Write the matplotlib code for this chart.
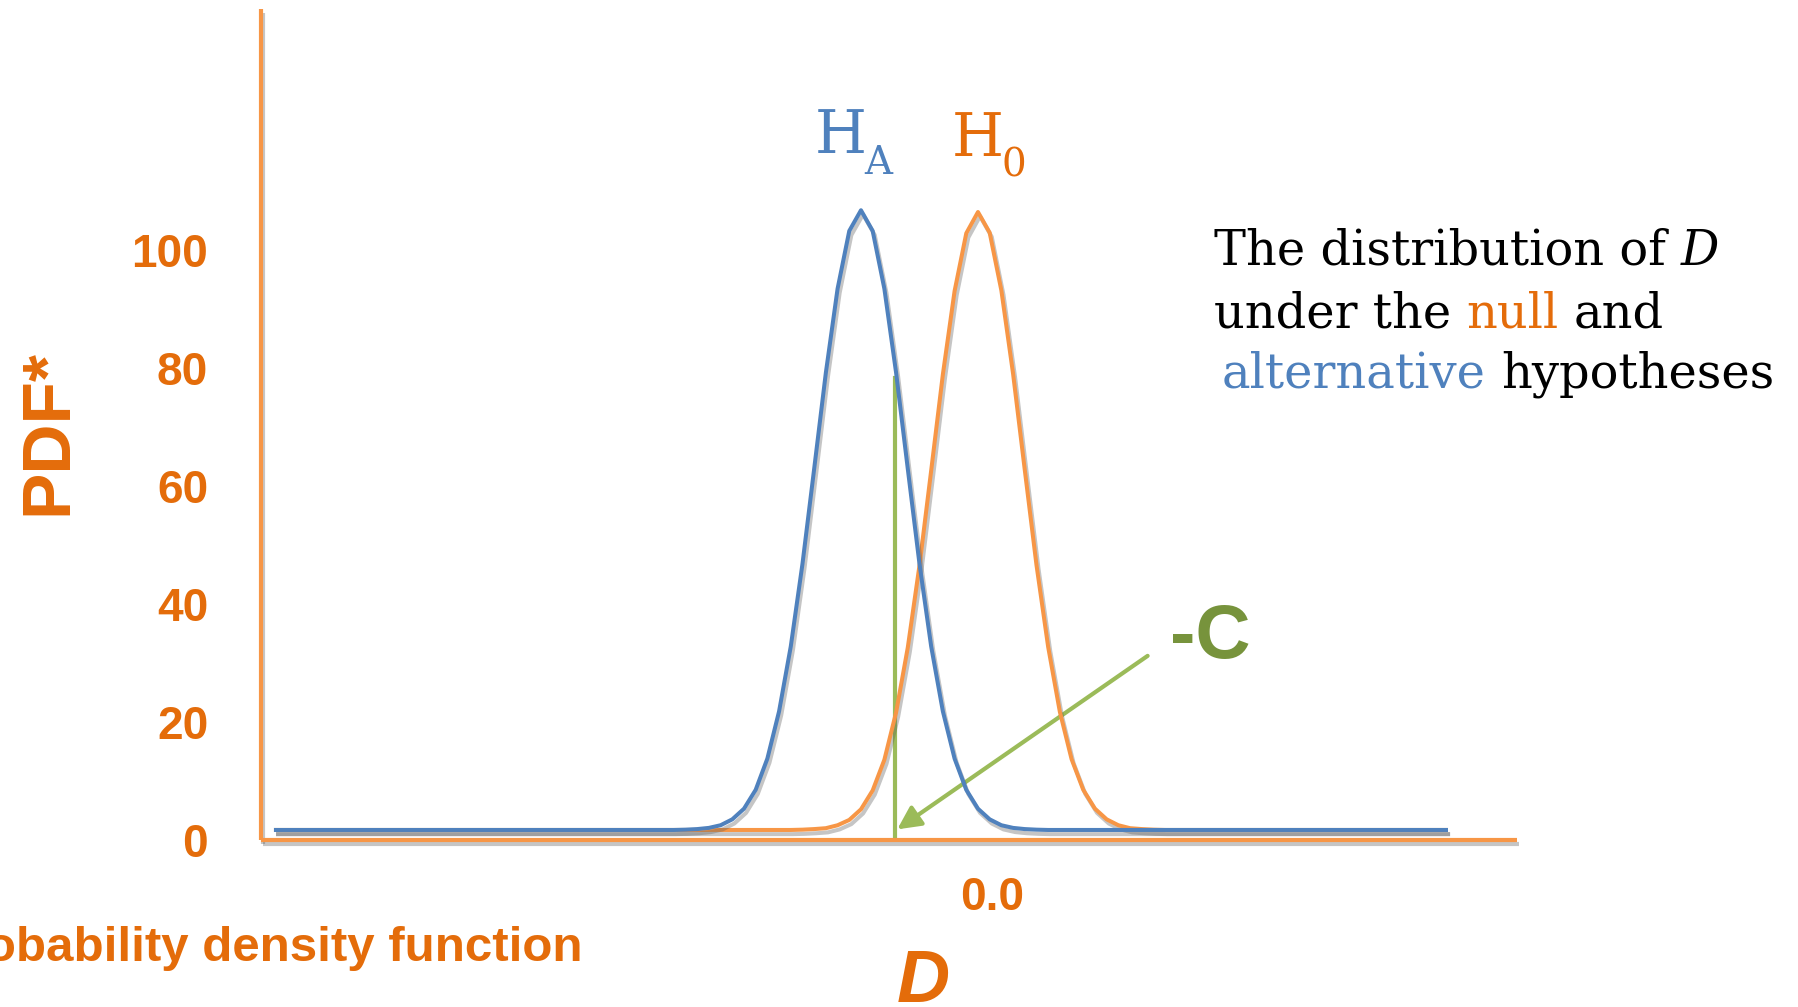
import matplotlib
matplotlib.use("Agg")
import matplotlib.pyplot as plt
import matplotlib.patheffects as pe
from matplotlib.transforms import ScaledTranslation

# curve samples (D, PDF)
blue_x = [-0.060, -0.026, -0.025, -0.024, -0.023, -0.022, -0.021, -0.020, -0.019, -0.018,
          -0.017, -0.016, -0.015, -0.014, -0.013, -0.012, -0.011, -0.010, -0.009, -0.008,
          -0.007, -0.006, -0.005, -0.004, -0.003, -0.002, -0.001, 0.000, 0.001, 0.002,
          0.003, 0.004, 0.005, 0.006, 0.040]
blue_y = [1.7, 1.7, 1.75, 1.85, 2.05, 2.5, 3.5, 5.3, 8.5, 13.8,
          21.8, 32.8, 46.8, 62.9, 79.2, 93.4, 103.2, 106.7, 103.2, 93.4,
          79.2, 62.9, 46.8, 32.8, 21.8, 13.8, 8.5, 5.3, 3.5, 2.5,
          2.05, 1.85, 1.75, 1.7, 1.7]

orange_x = [-0.060, -0.016, -0.015, -0.014, -0.013, -0.012, -0.011, -0.010, -0.009, -0.008,
            -0.007, -0.006, -0.005, -0.004, -0.003, -0.002, -0.001, 0.000, 0.001, 0.002,
            0.003, 0.004, 0.005, 0.006, 0.007, 0.008, 0.009, 0.010, 0.011, 0.012,
            0.013, 0.014, 0.015, 0.016, 0.040]
orange_y = [1.7, 1.7, 1.75, 1.85, 2.0, 2.5, 3.4, 5.2, 8.4, 13.6,
            21.6, 32.6, 46.5, 62.6, 78.9, 93.0, 102.8, 106.4, 102.9, 93.1,
            79.0, 62.7, 46.6, 32.7, 21.7, 13.7, 8.5, 5.3, 3.5, 2.5,
            2.0, 1.85, 1.75, 1.7, 1.7]

crit_x = -0.0071
crit_top = 78.3
arrow_tail = (0.0145, 31.2)
arrow_head = (-0.0069, 1.8)

yticks = [0, 20, 40, 60, 80, 100]
xticks = [0.0]
xtick_labels = ["0.0"]

BLUE = "#4F81BD"
ORANGE = "#F79646"
ORANGE_TXT = "#E46C0A"
GREEN = "#9BBB59"
GREEN_TXT = "#77933C"

plt.rcParams["font.family"] = ["Liberation Sans", "DejaVu Sans"]

W, H = 1798, 1007
fig = plt.figure(figsize=(W / 100, H / 100), dpi=100)

def fx(px):
    return px / W

def fy(py):
    return 1 - py / H

ax = fig.add_axes([fx(261), fy(840), (1517 - 261) / W, (840 - 9) / H])
ax.set_xlim(-0.06128, 0.04607)
ax.set_ylim(0, 140.8)

shadow = [pe.SimpleLineShadow(offset=(1.5, -3), shadow_color="0.35", alpha=0.35), pe.Normal()]

ax.plot([crit_x, crit_x], [0.5, crit_top], color=GREEN, lw=3, zorder=2)
ax.annotate("", xy=arrow_head, xytext=arrow_tail,
            arrowprops=dict(arrowstyle="-|>", color=GREEN, lw=3, mutation_scale=35,
                            shrinkA=0, shrinkB=0), zorder=2)
ax.plot(orange_x, orange_y, color=ORANGE, lw=2.9, path_effects=shadow, zorder=3)
ax.plot(blue_x, blue_y, color=BLUE, lw=2.9, path_effects=shadow, zorder=4)

for s in ["top", "right"]:
    ax.spines[s].set_visible(False)
for s in ["left", "bottom"]:
    ax.spines[s].set_color(ORANGE)
    ax.spines[s].set_linewidth(3)
    ax.spines[s].set_path_effects(shadow)
    ax.spines[s].set_capstyle("butt")

ax.set_yticks(yticks)
ax.set_xticks(xticks)
ax.set_xticklabels(xtick_labels)
ax.tick_params(axis="y", length=0, pad=38, labelsize=33, labelcolor=ORANGE_TXT)
ax.tick_params(axis="x", length=0, pad=26, labelsize=33, labelcolor=ORANGE_TXT)
for lab in ax.get_yticklabels() + ax.get_xticklabels():
    lab.set_fontweight("bold")
for lab in ax.get_xticklabels():
    lab.set_transform(lab.get_transform() + ScaledTranslation(0.14, 0, fig.dpi_scale_trans))

ax.set_ylabel("PDF*", fontsize=50, fontweight="bold", color=ORANGE_TXT, va="center")
ax.yaxis.set_label_coords(-0.169, 0.491)
ax.set_xlabel("D", fontsize=53, fontweight="bold", fontstyle="italic", color=ORANGE_TXT, va="center")
ax.xaxis.set_label_coords(0.527, -0.172)

# H_A / H_0 labels
serif = "DejaVu Serif"
ax.text(-0.01393, 116.4, "H", family=serif, fontsize=43, color=BLUE, va="baseline")
ax.text(-0.00975, 112.9, "A", family=serif, fontsize=28, color=BLUE, va="baseline")
ax.text(-0.00222, 115.9, "H", family=serif, fontsize=43, color=ORANGE_TXT, va="baseline")
ax.text(0.00200, 112.4, "0", family=serif, fontsize=28, color=ORANGE_TXT, va="baseline")

ax.text(0.01641, 30.8, "-C", fontsize=55, fontweight="bold", color=GREEN_TXT, va="baseline")

fig.text(fx(583), fy(961), "Probability density function", fontsize=35.5, fontweight="bold",
         color=ORANGE_TXT, ha="right", va="baseline")

# coloured sentence on the right
def line(pieces, x, y, size=34.5):
    gap = 0.318 * size * 100 / 72
    prev = None
    for txt, col, style in pieces:
        if prev is None:
            prev = fig.text(fx(x), fy(y), txt, family=serif, fontsize=size, color=col,
                            fontstyle=style, va="baseline")
        else:
            prev = ax.annotate(txt, xy=(1, 0), xycoords=prev, xytext=(gap, 0),
                               textcoords="offset pixels", family=serif, fontsize=size,
                               color=col, fontstyle=style, va="bottom", annotation_clip=False)

line([("The distribution of", "black", "normal"), ("D", "black", "italic")], 1214, 265)
line([("under the", "black", "normal"), ("null", ORANGE_TXT, "normal"), ("and", "black", "normal")], 1214, 328)
line([("alternative", BLUE, "normal"), ("hypotheses", "black", "normal")], 1222, 388)

fig.savefig("out.png", dpi=100)
